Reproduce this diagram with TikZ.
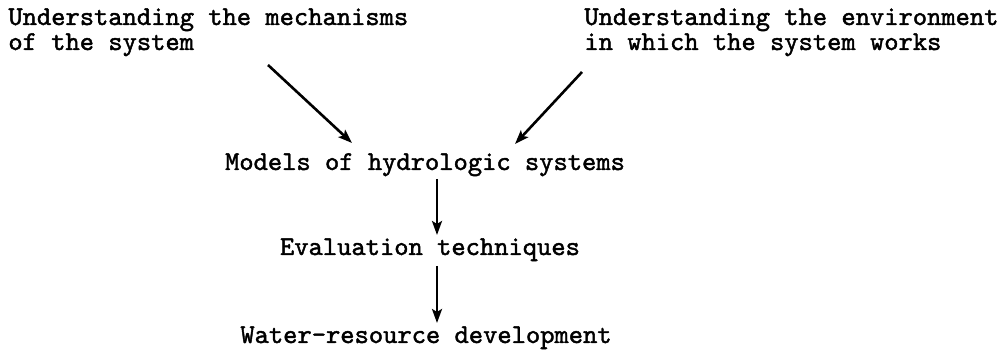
\documentclass[tikz,border=0pt]{standalone}
\usetikzlibrary{arrows.meta}
\font\twfont="[lmmono10-regular.otf]:embolden=1.6" at 13.6pt
\begin{document}
\begin{tikzpicture}[x=0.5pt,y=-0.5pt,
  txt/.style={inner sep=0pt, font=\twfont},
  arr/.style={line width=1.3pt, -{Stealth[length=7pt,width=5pt,inset=1.5pt]}}]
\useasboundingbox (0,0) rectangle (999,351);
\node[txt,anchor=base west] (l1) at (8,25) {Understanding the mechanisms};
\node[txt,anchor=base west] (l2) at (8,50) {of the system};
\node[txt,anchor=base west] (r1) at (584,25) {Understanding the environment};
\node[txt,anchor=base west] (r2) at (584,50) {in which the system works};
\node[txt,anchor=base] (models) at (425,170) {Models of hydrologic systems};
\node[txt,anchor=base] (eval) at (430,255) {Evaluation techniques};
\node[txt,anchor=base] (water) at (426,343) {Water-resource development};
\coordinate (ls) at (268,65);
\coordinate (le) at (352,143);
\coordinate (rs) at (582,72);
\coordinate (re) at (515,144);
\coordinate (v1s) at (437,179);
\coordinate (v1e) at (437,235);
\coordinate (v2s) at (437,266);
\coordinate (v2e) at (437,323);
\draw[arr] (ls) -- (le);
\draw[arr] (rs) -- (re);
\draw[arr] (v1s) -- (v1e);
\draw[arr] (v2s) -- (v2e);
\end{tikzpicture}
\end{document}
